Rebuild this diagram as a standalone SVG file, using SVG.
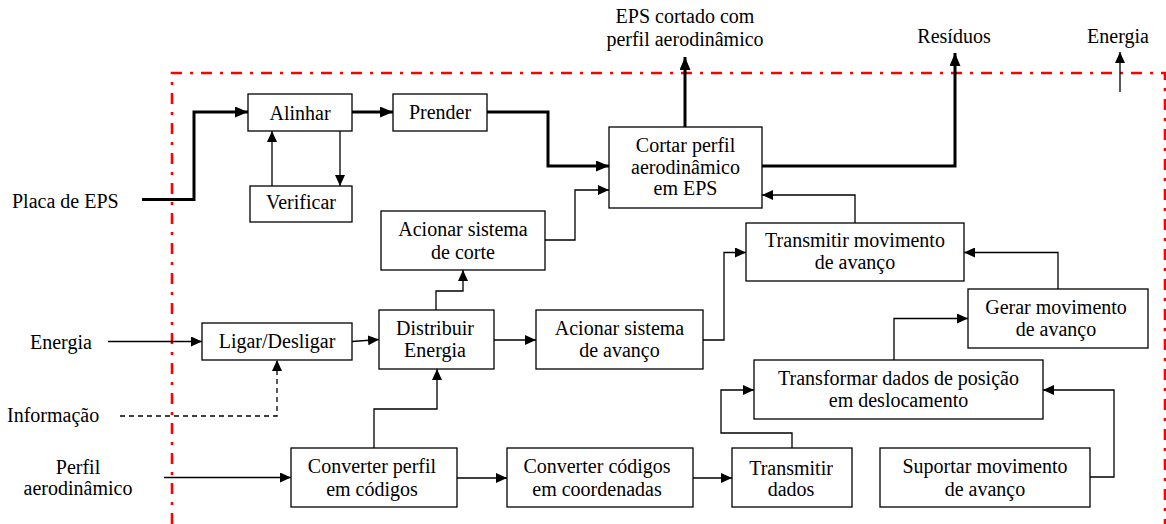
<svg xmlns="http://www.w3.org/2000/svg" width="1166" height="524" viewBox="0 0 1166 524">
<style>
text{font-family:"Liberation Serif","Times New Roman",serif;font-size:20px;fill:#000;text-anchor:middle}
.lab{text-anchor:start}
.box{fill:#fff;stroke:#000;stroke-width:1.3}
.c{fill:none;stroke:#000;stroke-width:1.3;marker-end:url(#ah)}
.k{fill:none;stroke:#000;stroke-width:3;marker-end:url(#ahk)}
.d{fill:none;stroke:#000;stroke-width:1.3;stroke-dasharray:5 4;marker-end:url(#ah)}
.frame{fill:none;stroke:#f00;stroke-width:2.6;stroke-dasharray:11 8 3 8}
</style>
<defs>
<marker id="ah" markerWidth="12" markerHeight="10" refX="11" refY="5" orient="auto" markerUnits="userSpaceOnUse"><path d="M0,0 L11,5 L0,10 z" fill="#000"/></marker>
<marker id="ahk" markerWidth="14" markerHeight="11" refX="13" refY="5.5" orient="auto" markerUnits="userSpaceOnUse"><path d="M0,0 L13,5.5 L0,11 z" fill="#000"/></marker>
</defs>
<rect width="1166" height="524" fill="#fff"/>
<path class="frame" d="M172,524 V73 H1165 V524"/>
<g id="connectors">
<path class="k" d="M142,199.5 H194 V112 H248"/>
<path class="k" d="M352,112 H393"/>
<path class="k" d="M487,112 H548 V166 H609"/>
<path class="k" d="M685,127 V57"/>
<path class="k" d="M762,166 H955 V53"/>
<path class="c" d="M1120,92 V52"/>
<path class="c" d="M340,131 V186"/>
<path class="c" d="M272,186 V131"/>
<path class="c" d="M108,341.5 H202"/>
<path class="c" d="M352,341.5 L379,339.5"/>
<path class="d" d="M120,416 H277 V360"/>
<path class="c" d="M436,310 V291 H463 V270"/>
<path class="c" d="M545,240 H575 V190 H609"/>
<path class="c" d="M494,340 H536"/>
<path class="c" d="M703,340 H724 V252.5 H746"/>
<path class="c" d="M855,223 V195 H762"/>
<path class="c" d="M1058,289 V252.5 H964"/>
<path class="c" d="M894,360 V318.5 H968"/>
<path class="c" d="M164,477.5 H291"/>
<path class="c" d="M374,448 V409 H437 V369"/>
<path class="c" d="M457,478 H507"/>
<path class="c" d="M693,478 H732"/>
<path class="c" d="M792,448 V433 H721 V390 H754"/>
<path class="c" d="M1090,477 H1114 V390 H1043"/>
</g>
<g id="labels">
<text x="685" y="23">EPS cortado com</text>
<text x="685" y="46">perfil aerodinâmico</text>
<text x="954" y="43">Resíduos</text>
<text x="1118" y="43">Energia</text>
<text class="lab" x="12" y="208">Placa de EPS</text>
<text class="lab" x="30" y="349">Energia</text>
<text class="lab" x="7" y="422">Informação</text>
<text x="78" y="474">Perfil</text>
<text x="78" y="495">aerodinâmico</text>
</g>
<g id="alinhar"><rect class="box" x="248" y="94" width="104" height="37"/><text x="300" y="120">Alinhar</text></g>
<g id="verificar"><rect class="box" x="250" y="186" width="102" height="36"/><text x="301" y="209">Verificar</text></g>
<g id="prender"><rect class="box" x="393" y="94" width="94" height="37"/><text x="440" y="119">Prender</text></g>
<g id="cortar"><rect class="box" x="609" y="127" width="153" height="81"/><text x="685.5" y="152">Cortar perfil</text><text x="685.5" y="174">aerodinâmico</text><text x="685.5" y="195">em EPS</text></g>
<g id="acionar-corte"><rect class="box" x="381" y="211" width="164" height="59"/><text x="463" y="236">Acionar sistema</text><text x="463" y="259">de corte</text></g>
<g id="ligar"><rect class="box" x="202" y="323" width="150" height="37"/><text x="277" y="348">Ligar/Desligar</text></g>
<g id="distribuir"><rect class="box" x="379" y="310" width="115" height="59"/><text x="435" y="335">Distribuir</text><text x="435" y="357">Energia</text></g>
<g id="acionar-avanco"><rect class="box" x="536" y="310" width="167" height="59"/><text x="619.5" y="335">Acionar sistema</text><text x="619.5" y="357">de avanço</text></g>
<g id="transmitir-mov"><rect class="box" x="746" y="223" width="218" height="58"/><text x="855" y="247">Transmitir movimento</text><text x="855" y="269">de avanço</text></g>
<g id="gerar"><rect class="box" x="968" y="289" width="180" height="59"/><text x="1056" y="314">Gerar movimento</text><text x="1056" y="336">de avanço</text></g>
<g id="transformar"><rect class="box" x="754" y="360" width="289" height="59"/><text x="898.5" y="385">Transformar dados de posição</text><text x="898.5" y="407">em deslocamento</text></g>
<g id="conv-perfil"><rect class="box" x="291" y="448" width="166" height="59"/><text x="372" y="473">Converter perfil</text><text x="372" y="496">em códigos</text></g>
<g id="conv-codigos"><rect class="box" x="507" y="448" width="186" height="59"/><text x="597" y="473">Converter códigos</text><text x="597" y="496">em coordenadas</text></g>
<g id="transmitir-dados"><rect class="box" x="732" y="448" width="120" height="59"/><text x="791" y="475">Transmitir</text><text x="791" y="496">dados</text></g>
<g id="suportar"><rect class="box" x="880" y="448" width="210" height="59"/><text x="985" y="473">Suportar movimento</text><text x="985" y="496">de avanço</text></g>
</svg>
